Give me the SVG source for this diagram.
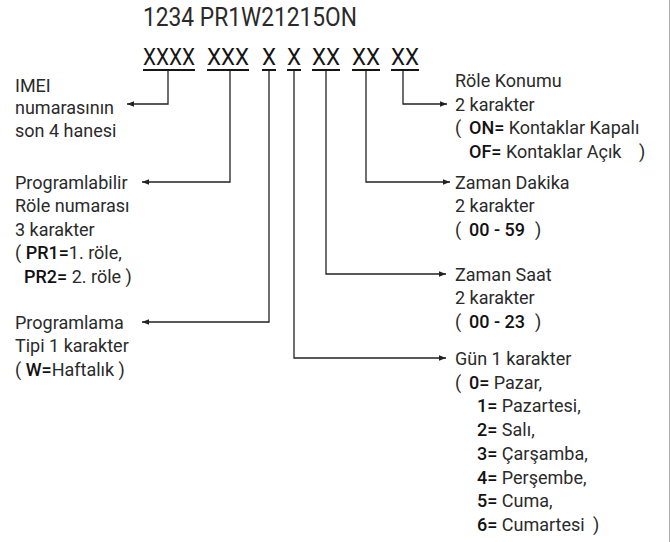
<svg xmlns="http://www.w3.org/2000/svg" width="670" height="542" viewBox="0 0 670 542">
<defs>
<marker id="ah" viewBox="0 0 10 10" refX="10" refY="5" markerWidth="7" markerHeight="7" markerUnits="userSpaceOnUse" orient="auto">
<path d="M0,1 L10,5 L0,9 Z" fill="#222"/>
</marker>
<style>
text{font-family:Roboto,"Liberation Sans",Arial,sans-serif;fill:#2a2a2a}
.t{font-size:18px}
.b{font-weight:500;fill:#111}
.code{font-size:24px;fill:#151515}
.ul{stroke:#151515;stroke-width:2}
.c{fill:none;stroke:#222;stroke-width:1.3;marker-end:url(#ah)}
</style>
</defs>
<rect width="670" height="542" fill="#fff"/>
<line x1="669.5" y1="0" x2="669.5" y2="542" stroke="#b0b0b0" stroke-width="1"/>
<g id="title">
<text x="143" y="26" font-size="25" textLength="214" lengthAdjust="spacingAndGlyphs" fill="#151515">1234 PR1W21215ON</text>
</g>
<g id="code">
<text class="code" x="143" y="65" textLength="52" lengthAdjust="spacingAndGlyphs">XXXX</text>
<text class="code" x="207" y="65" textLength="42" lengthAdjust="spacingAndGlyphs">XXX</text>
<text class="code" x="262" y="65" textLength="14" lengthAdjust="spacingAndGlyphs">X</text>
<text class="code" x="287" y="65" textLength="14" lengthAdjust="spacingAndGlyphs">X</text>
<text class="code" x="312" y="65" textLength="28" lengthAdjust="spacingAndGlyphs">XX</text>
<text class="code" x="352" y="65" textLength="28" lengthAdjust="spacingAndGlyphs">XX</text>
<text class="code" x="391" y="65" textLength="28" lengthAdjust="spacingAndGlyphs">XX</text>
<line class="ul" x1="143" y1="70" x2="195" y2="70"/>
<line class="ul" x1="207" y1="70" x2="249" y2="70"/>
<line class="ul" x1="262" y1="70" x2="276" y2="70"/>
<line class="ul" x1="287" y1="70" x2="301" y2="70"/>
<line class="ul" x1="312" y1="70" x2="340" y2="70"/>
<line class="ul" x1="352" y1="70" x2="380" y2="70"/>
<line class="ul" x1="391" y1="70" x2="419" y2="70"/>
</g>
<g id="connectors">
<path class="c" d="M168,71 V104 H127"/>
<path class="c" d="M230,71 V182 H142"/>
<path class="c" d="M269,71 V322 H142"/>
<path class="c" d="M294,71 V358 H446"/>
<path class="c" d="M326,71 V274 H446"/>
<path class="c" d="M366,71 V182 H450"/>
<path class="c" d="M403,71 V104 H447"/>
</g>
<g id="imei">
<text class="t" x="15" y="92">IMEI</text>
<text class="t" x="15" y="113.5">numarasının</text>
<text class="t" x="15" y="136.5">son 4 hanesi</text>
</g>
<g id="role-no">
<text class="t" x="15" y="188.5">Programlabilir</text>
<text class="t" x="15" y="212">Röle numarası</text>
<text class="t" x="15" y="235.5">3 karakter</text>
<text class="t" x="15" y="259">( <tspan class="b">PR1=</tspan>1. röle,</text>
<text class="t" x="24" y="282.5"><tspan class="b">PR2=</tspan> 2. röle )</text>
</g>
<g id="prog-tipi">
<text class="t" x="15" y="328.5">Programlama</text>
<text class="t" x="15" y="352.2">Tipi 1 karakter</text>
<text class="t" x="15" y="375.9">( <tspan class="b">W=</tspan>Haftalık )</text>
</g>
<g id="role-konum">
<text class="t" x="455" y="87">Röle Konumu</text>
<text class="t" x="455" y="110.5">2 karakter</text>
<text class="t" x="455" y="134">(<tspan class="b" x="469">ON=</tspan> Kontaklar Kapalı</text>
<text class="t" x="469" y="157.5"><tspan class="b">OF=</tspan> Kontaklar Açık<tspan x="639">)</tspan></text>
</g>
<g id="dakika">
<text class="t" x="455" y="188.5">Zaman Dakika</text>
<text class="t" x="455" y="212">2 karakter</text>
<text class="t" x="455" y="235.5">(<tspan class="b" x="469">00 - 59</tspan><tspan x="535">)</tspan></text>
</g>
<g id="saat">
<text class="t" x="455" y="280.5">Zaman Saat</text>
<text class="t" x="455" y="304">2 karakter</text>
<text class="t" x="455" y="327.5">(<tspan class="b" x="469">00 - 23</tspan><tspan x="535">)</tspan></text>
</g>
<g id="gun">
<text class="t" x="455" y="365">Gün 1 karakter</text>
<text class="t" x="455" y="388.7">(<tspan class="b" x="469">0=</tspan> Pazar,</text>
<text class="t" x="477" y="412.4"><tspan class="b">1=</tspan> Pazartesi,</text>
<text class="t" x="477" y="436.1"><tspan class="b">2=</tspan> Salı,</text>
<text class="t" x="477" y="459.8"><tspan class="b">3=</tspan> Çarşamba,</text>
<text class="t" x="477" y="483.5"><tspan class="b">4=</tspan> Perşembe,</text>
<text class="t" x="477" y="507.2"><tspan class="b">5=</tspan> Cuma,</text>
<text class="t" x="477" y="530.9"><tspan class="b">6=</tspan> Cumartesi<tspan x="593">)</tspan></text>
</g>
</svg>
